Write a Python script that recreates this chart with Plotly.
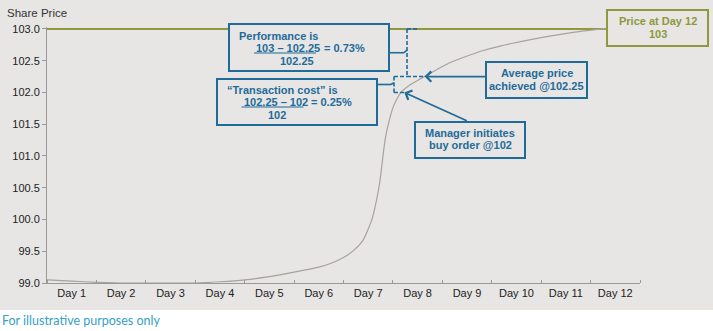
import plotly.graph_objects as go

# ---- data ---------------------------------------------------------------
day_labels = ["Day 1", "Day 2", "Day 3", "Day 4", "Day 5", "Day 6",
              "Day 7", "Day 8", "Day 9", "Day 10", "Day 11", "Day 12"]
day_pos = [1, 2, 3, 4, 5, 6, 7, 8, 9, 10, 11, 12]

# intraday share-price path (x in day units)
curve_day = [0.5, 1.0, 1.5, 2.0, 2.5, 3.0, 3.5, 4.0, 4.5, 5.0, 5.5, 6.0,
             6.25, 6.5, 6.7, 6.9, 7.07, 7.17, 7.24, 7.29, 7.34, 7.41,
             7.51, 7.65, 7.85, 8.14, 8.32, 8.66, 8.99, 9.33, 9.67, 10.34,
             11.02, 11.76, 12.0]
curve_price = [99.05, 99.03, 99.01, 99.0, 99.0, 99.0, 99.0, 99.02, 99.05,
               99.10, 99.17, 99.25, 99.31, 99.40, 99.51, 99.68, 99.99,
               100.31, 100.62, 100.94, 101.25, 101.51, 101.78, 101.99,
               102.12, 102.25, 102.33, 102.47, 102.57, 102.66, 102.73,
               102.84, 102.93, 103.0, 103.0]

start_price = 102.0      # manager initiates buy order
avg_price = 102.25       # average price achieved
end_price = 103.0        # price at day 12
start_day = 7.65
avg_day = 8.14

y_ticks = [99.0, 99.5, 100.0, 100.5, 101.0, 101.5, 102.0, 102.5, 103.0]

# ---- styling ------------------------------------------------------------
W, H = 713, 331
L, R, T, B = 47, 73, 27, 48
BG = "#e7e6e4"
BLUE = "#1f6b9a"
OLIVE = "#8e983c"
GREY_LINE = "#a8a29b"
X_RANGE = [0.5, 12.5]
Y_RANGE = [99.0, 103.03]
FONT = "Liberation Sans, Arial, sans-serif"

pw, ph = W - L - R, H - T - B


def xp(px):
    return (px - L) / pw


def yp(py):
    return (H - B - py) / ph


def xd(px):
    return X_RANGE[0] + (px - L) / pw * (X_RANGE[1] - X_RANGE[0])


fig = go.Figure()

fig.add_trace(go.Scatter(
    x=[X_RANGE[0], day_pos[-1]], y=[end_price, end_price],
    mode="lines", line=dict(color=OLIVE, width=2), hoverinfo="skip"))

fig.add_trace(go.Scatter(
    x=curve_day, y=curve_price, mode="lines",
    line=dict(color=GREY_LINE, width=1.2, shape="spline", smoothing=0.5),
    hoverinfo="skip"))

shapes = []
annotations = []


def box(x0, y0, x1, y1, color):
    shapes.append(dict(type="rect", xref="paper", yref="paper",
                       x0=xp(x0), x1=xp(x1), y0=yp(y1), y1=yp(y0),
                       line=dict(color=color, width=2), fillcolor=BG,
                       layer="above"))


def text(s, x, y, color=BLUE, anchor="center", size=11, bold=True, family=FONT):
    annotations.append(dict(
        text=f"<b>{s}</b>" if bold else s, xref="paper", yref="paper",
        x=xp(x), y=yp(y), xanchor=anchor, yanchor="middle", showarrow=False,
        font=dict(family=family, size=size, color=color)))


def seg(x0, y0, x1, y1, dash=None, width=1.6):
    shapes.append(dict(type="line", xref="x", yref="y",
                       x0=x0, y0=y0, x1=x1, y1=y1,
                       line=dict(color=BLUE, width=width, dash=dash),
                       layer="above"))


# performance bracket (dashed) between average price and final price
bx1 = xd(407)
seg(bx1, end_price, bx1, avg_price, dash="4px,2px")
seg(bx1, end_price, xd(417), end_price, dash="4px,2px")
seg(bx1, avg_price, xd(423), avg_price, dash="4px,2px")
seg(xd(389), (end_price + avg_price) / 2, xd(404), (end_price + avg_price) / 2)
seg(xd(404), (end_price + avg_price) / 2, bx1, (end_price + avg_price) / 2 + 0.04)

# transaction-cost bracket between start price and average price
bx2 = xd(394)
seg(bx2, avg_price, bx2, start_price, dash="4px,2px")
seg(bx2, avg_price, bx1, avg_price, dash="4px,2px")
seg(bx2, start_price, xd(405), start_price, dash="4px,2px")
seg(xd(377), (avg_price + start_price) / 2, xd(391), (avg_price + start_price) / 2)
seg(xd(391), (avg_price + start_price) / 2, bx2, (avg_price + start_price) / 2 + 0.03)

# boxes
box(229, 24, 389, 71, BLUE)
box(217, 79, 377, 125, BLUE)
box(607, 10, 708, 46, OLIVE)
box(486, 62, 587, 98, BLUE)
box(415, 122, 525, 158, BLUE)

# fraction underlines
shapes.append(dict(type="line", xref="paper", yref="paper",
                   x0=xp(254), x1=xp(316), y0=yp(53), y1=yp(53),
                   line=dict(color=BLUE, width=1), layer="above"))
shapes.append(dict(type="line", xref="paper", yref="paper",
                   x0=xp(241.5), x1=xp(303.5), y0=yp(107), y1=yp(107),
                   line=dict(color=BLUE, width=1), layer="above"))

# box texts
perf = (end_price - avg_price) / avg_price * 100
cost = (avg_price - start_price) / start_price * 100
text("Performance is", 237, 35.5, anchor="left")
text(f"{end_price:g} \u2013 {avg_price:g}", 254, 48, anchor="left")
text(f"= {perf:.2f}%", 322, 48, anchor="left")
text(f"{avg_price:g}", 277.5, 60.5, anchor="left")

text("\u201cTransaction cost\u201d is", 225, 89.5, anchor="left")
text(f"{avg_price:g} \u2013 {start_price:g}", 241.5, 102, anchor="left")
text(f"= {cost:.2f}%", 309, 102, anchor="left")
text(f"{start_price:g}", 265.5, 114.5, anchor="left")

text("Price at Day 12", 657.5, 21, color=OLIVE)
text(f"{end_price:g}", 657.5, 33.5, color=OLIVE)

text("Average price", 536.5, 73)
text(f"achieved @{avg_price:g}", 536.5, 85.5)

text("Manager initiates", 470, 132.5)
text(f"buy order @{start_price:g}", 470, 145)

# arrows pointing at the curve
annotations.append(dict(x=avg_day, y=avg_price, xref="x", yref="y", text="",
                        showarrow=True, ax=62, ay=0, arrowhead=4, arrowsize=1.1,
                        arrowwidth=1.8, arrowcolor=BLUE, standoff=0))
annotations.append(dict(x=start_day + 0.08, y=start_price, xref="x", yref="y",
                        text="", showarrow=True, ax=64, ay=29, arrowhead=4,
                        arrowsize=1.1, arrowwidth=1.8, arrowcolor=BLUE,
                        standoff=0))

# axis title and footnote
text("Share Price", 5, 12.5, color="#333333", anchor="left", bold=False,
     size=11.5)
text("For illustrative purposes only", 0, 320, color="#35a0c8", anchor="left",
     bold=False, size=12.5, family="Lato, Noto Sans, sans-serif")

# white footer strip below the grey panel
shapes.insert(0, dict(type="rect", xref="paper", yref="paper",
                      x0=xp(-5), x1=xp(W + 5), y0=yp(H + 5), y1=yp(310),
                      line=dict(width=0), fillcolor="white", layer="below"))

fig.update_layout(
    width=W, height=H,
    margin=dict(l=L, r=R, t=T, b=B),
    paper_bgcolor=BG, plot_bgcolor=BG,
    showlegend=False,
    shapes=shapes, annotations=annotations,
    font=dict(family=FONT, size=11, color="#333333"),
    xaxis=dict(range=X_RANGE, tickvals=day_pos, ticktext=day_labels,
               showgrid=False, zeroline=False, showline=True,
               linecolor="#999999", linewidth=1, ticks="",
               tickfont=dict(size=11, color="#222222"),
               minor=dict(tickmode="linear", tick0=0.5, dtick=1,
                          ticks="inside", ticklen=3, tickcolor="#999999",
                          showgrid=False)),
    yaxis=dict(range=Y_RANGE, tickvals=y_ticks, tickformat=".1f",
               showgrid=False, zeroline=False, showline=True,
               linecolor="#999999", linewidth=1, ticks="outside",
               ticklen=4, tickcolor="#999999",
               tickfont=dict(size=11, color="#222222")),
)

fig.write_html("out.html")
